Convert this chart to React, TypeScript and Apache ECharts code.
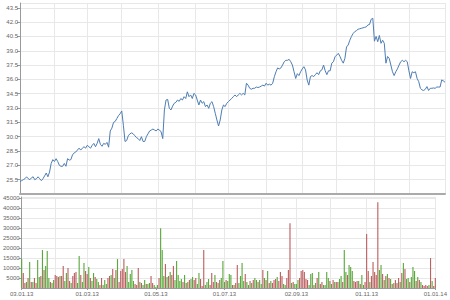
import React, { useEffect, useRef } from "react";
import * as echarts from "echarts";

// Trading days (weekdays) from 03.01.2013 to 01.01.2014
const START_DATE = "2013-01-03";
const END_DATE = "2014-01-01";

// Closing prices, one per trading day
const prices: number[] = [
  25.3, 25.4, 25.5, 25.6, 25.8, 25.6, 25.5, 25.7, 25.8, 25.5, 25.6, 25.8, 25.6, 25.4, 25.6, 25.9, 26.2, 25.8, 26.3, 27.2, 27.6, 27.4, 27.7, 27.4, 27.0,
  26.9, 26.9, 27.2, 26.9, 27.7, 27.55, 27.6, 28.1, 28.3, 28.4, 28.6, 28.8, 28.6, 28.8, 28.95, 28.8, 29.1, 28.95, 28.8, 29.1, 29.3, 28.95, 29.3,
  29.8, 29.2, 29.0, 29.3, 29.2, 29.4, 28.9, 30.6, 30.9, 31.5, 31.6, 31.9, 32.2, 32.4, 32.7,
  31.2, 29.5, 29.6, 30.1, 30.3, 30.4, 30.3, 30.1, 29.9, 29.8, 29.6, 30.0, 29.5, 29.5, 30.0, 30.3, 30.6, 30.7, 30.8, 30.7, 30.6, 30.8, 30.7, 30.5, 29.8,
  32.8, 33.84, 33.9, 32.97, 32.8, 33.2, 33.5, 33.6, 33.84, 33.7, 34.0, 33.84, 34.19, 34.0, 34.7, 34.19, 34.37, 34.0, 34.54, 34.37, 33.84, 33.32, 33.84, 33.5, 33.67,
  33.15, 33.32, 32.97, 33.5, 33.67, 33.15, 32.45, 31.75, 31.12, 31.75, 32.8, 33.32, 33.15, 33.5, 33.67, 33.84, 34.0, 34.19, 34.37, 34.19, 34.37, 34.54, 34.37, 34.54, 34.37,
  35.6, 35.4, 35.07, 34.97, 35.07, 35.07, 35.2, 35.15, 35.2, 35.3, 35.4, 35.3, 35.6, 35.4, 35.5, 35.4, 35.6, 36.28, 36.8, 37.2, 37.1, 37.2, 37.5, 37.85, 38.0,
  38.0, 38.1, 37.85, 37.5, 36.8, 36.1, 36.6, 36.4, 36.8, 37.1, 37.33, 37.0,
  35.94, 35.4, 36.3, 36.4, 36.3, 36.5, 36.7, 36.5, 36.9, 37.0, 37.5, 36.9, 36.5, 36.9, 36.9, 37.7, 37.85, 38.37, 38.55, 38.73, 38.4, 38.0, 37.7, 38.2, 39.4,
  39.6, 40.1, 40.5, 40.8, 41.0, 41.1, 41.25, 41.3, 41.35, 41.4, 41.45, 41.5, 41.7, 41.75, 42.3, 42.4,
  40.0, 40.5, 39.95, 40.6, 39.78, 40.1, 39.78, 37.7, 38.4, 38.2, 37.5, 36.8, 36.4, 36.8, 37.1, 37.5, 37.85, 38.0, 37.85, 38.0, 37.85, 36.9, 36.1, 36.8, 36.7,
  36.8, 36.1, 35.76, 35.07, 34.9, 34.84, 34.97, 35.25, 34.84, 35.07, 35.07, 35.1, 35.07, 35.2, 35.2, 35.2, 35.94, 35.85, 35.7,
];

// Volumes (thousands) per trading day
const volumes: number[] = [
  14.5, 7.5, 2.5, 3, 5, 13, 3, 3, 5, 2.5, 14, 5.5, 6, 19, 9, 11, 18.5, 5, 3, 2.5, 4, 6.5, 6, 5.5, 6,
  6, 11, 3.5, 7.5, 10, 3.5, 2.5, 6, 7.5, 8, 2.5, 16, 6.5, 3, 12.5, 8.5, 7, 10.5, 5, 3.5, 7.5, 5.5, 4.5, 3,
  1.5, 5, 1.5, 4, 2, 5, 6, 6.5, 9.5, 5, 9, 14.5, 3, 8.5, 9.5, 14.5, 8, 11, 3, 7, 9, 3.5, 2, 1.5, 10,
  3, 2.5, 1.5, 4, 2, 2,
  2.5, 6, 2.5, 1.5, 0.5, 1.5, 5, 30, 19, 6, 12, 5.5, 6, 8, 6.5, 11, 4, 13.5, 6.5, 3.5, 4.5, 3, 6.5, 2.5, 3,
  4, 4.5, 5.5, 4, 5, 2, 7.5, 4.5, 1, 19, 1.5, 3, 4.5, 1.5, 7.5, 3, 6.5, 3, 2.5, 4, 5, 13.5, 3, 4, 3.5,
  7, 6.5, 1.5, 1.5, 2.5, 11.5, 2.5, 6, 12.5, 3.5, 7, 3, 1.5, 3.5, 2.5, 4, 5, 4, 3, 4, 2, 9, 5, 4, 8.5,
  2.5, 3.5, 2.5, 4, 4.5, 5.5, 3.5, 8, 6, 2, 1.5, 5, 9, 32.5, 2.5, 3, 2,
  2, 4, 5, 8.5, 9, 8, 4.5, 4, 1.5, 7, 7.5, 1.5, 2.5, 5, 8, 2, 3, 1.5, 1.5, 8, 5, 3.5, 2, 4, 3,
  3, 3, 4.5, 6, 3, 19, 8, 6.5, 11.5, 10.5, 8.5, 3.5, 3, 3.5, 3.5, 2, 6.5, 1.5, 3, 27, 8.5, 3, 6, 13, 8,
  6.5, 43, 9, 11.5, 7, 4, 6, 7, 5, 4.5, 2, 2.5, 4, 2.5, 5, 3, 7.5, 12.5, 9.5, 4.5, 5, 3, 5.5, 10.5, 8.5,
  3.5, 5.5, 4, 3, 1.5, 1, 1.5, 1, 1.5, 15, 3.5, 1, 5,
];

// Bar direction per trading day: 1 = up (green), 0 = down (red)
const volumeUp: number[] = [
  1, 0, 0, 1, 0, 1, 0, 1, 0, 0, 1, 1, 0, 1, 0, 1, 1, 1, 0, 1, 1, 0, 0, 0, 1,
  0, 0, 1, 1, 0, 0, 1, 0, 0, 0, 1, 1, 0, 1, 1, 0, 0, 1, 0, 1, 1, 0, 1, 1,
  0, 0, 1, 1, 1, 0, 0, 1, 0, 1, 0, 1, 0, 0, 0, 0, 0, 1, 1, 1, 1, 1, 0, 0, 0,
  1, 0, 1, 1, 0, 1,
  1, 0, 0, 1, 1, 1, 0, 1, 1, 1, 0, 1, 0, 1, 0, 0, 1, 1, 1, 1, 1, 0, 1, 0, 1,
  0, 1, 1, 0, 0, 1, 1, 0, 0, 0, 1, 1, 1, 0, 0, 0, 1, 0, 1, 0, 1, 1, 1, 0, 1,
  1, 1, 0, 1, 0, 0, 1, 1, 1, 1, 0, 1, 1, 0, 1, 0, 1, 1, 0, 1, 1, 0, 1, 0, 1,
  0, 1, 0, 0, 0, 1, 0, 0, 0, 1, 1, 0, 0, 0, 1, 0, 1,
  1, 1, 0, 0, 0, 0, 0, 0, 1, 1, 1, 0, 1, 0, 1, 0, 0, 1, 1, 1, 1, 0, 1, 0, 1,
  0, 0, 1, 1, 0, 1, 1, 0, 1, 1, 1, 0, 0, 0, 1, 0, 1, 1, 0, 0, 0, 1, 0, 0, 0,
  0, 0, 1, 1, 0, 1, 0, 1, 0, 1, 0, 1, 0, 0, 0, 1, 0, 1, 0, 1, 1, 0, 1, 1, 1,
  0, 1, 0, 1, 0, 0, 0, 0, 1, 0, 1, 0, 0,
];

function tradingDays(start: string, end: string): string[] {
  const out: string[] = [];
  const d = new Date(start + "T12:00:00Z");
  const e = new Date(end + "T12:00:00Z");
  while (d <= e) {
    const wd = d.getUTCDay();
    if (wd !== 0 && wd !== 6) {
      const dd = String(d.getUTCDate()).padStart(2, "0");
      const mm = String(d.getUTCMonth() + 1).padStart(2, "0");
      const yy = String(d.getUTCFullYear()).slice(2);
      out.push(`${dd}.${mm}.${yy}`);
    }
    d.setUTCDate(d.getUTCDate() + 1);
  }
  return out;
}

export default function App() {
  const ref = useRef<HTMLDivElement>(null);
  useEffect(() => {
    if (!ref.current) return;
    const chart = echarts.init(ref.current, undefined, { renderer: "svg" });
    const dates = tradingDays(START_DATE, END_DATE);
    // first trading day of each month
    const monthStart: boolean[] = dates.map((d, i) => i === 0 || d.slice(3, 5) !== dates[i - 1].slice(3, 5));
    const monthIdx: number[] = [];
    monthStart.forEach((m, i) => { if (m) monthIdx.push(i); });
    const labelSet = new Set<number>(monthIdx.filter((_, k) => k % 2 === 0));
    const isMonth = (i: number) => monthStart[i];
    const isLabel = (i: number) => labelSet.has(i);

    const font = "Liberation Sans";
    const labelColor = "#666";
    const gridLine = { show: true, lineStyle: { color: "#e8e8e8", width: 1 } };

    chart.setOption({
      animation: false,
      backgroundColor: "#fff",
      grid: [
        { left: 20, right: 5, top: 3, height: 191 },
        { left: 20, right: 5, top: 197, height: 91 },
      ],
      xAxis: [
        {
          type: "category",
          gridIndex: 0,
          data: dates,
          boundaryGap: false,
          axisLine: { show: true, lineStyle: { color: "#aaa", width: 2 } },
          axisTick: { show: false },
          axisLabel: { show: false },
          splitLine: { ...gridLine, interval: (i: number) => isMonth(i) },
        },
        {
          type: "category",
          gridIndex: 1,
          data: dates,
          boundaryGap: false,
          axisLine: { show: true, lineStyle: { color: "#999", width: 1 } },
          axisTick: { show: true, length: 2, interval: (i: number) => isLabel(i), lineStyle: { color: "#999" } },
          axisLabel: {
            show: true,
            interval: (i: number) => isLabel(i),
            color: labelColor,
            fontSize: 6,
            fontFamily: font,
            margin: 3,
          },
          splitLine: { ...gridLine, interval: (i: number) => isMonth(i) },
        },
      ],
      yAxis: [
        {
          type: "value",
          gridIndex: 0,
          min: 24,
          max: 44,
          interval: 1.5,
          axisLine: { show: true, lineStyle: { color: "#999", width: 1 } },
          axisTick: { show: true, length: 3, lineStyle: { color: "#999" } },
          axisLabel: {
            color: labelColor,
            fontSize: 6,
            fontFamily: font,
            margin: 2,
            showMinLabel: false,
            showMaxLabel: false,
            formatter: (v: number) => v.toFixed(1),
          },
          splitLine: gridLine,
        },
        {
          type: "value",
          gridIndex: 1,
          min: 0,
          max: 45600,
          interval: 5000,
          axisLine: { show: true, lineStyle: { color: "#999", width: 1 } },
          axisTick: { show: true, length: 3, lineStyle: { color: "#999" } },
          axisLabel: {
            color: labelColor,
            fontSize: 6,
            fontFamily: font,
            margin: 2,
            showMinLabel: false,
            showMaxLabel: false,
            formatter: (v: number) => String(Math.round(v)),
          },
          splitLine: gridLine,
        },
      ],
      series: [
        {
          type: "line",
          xAxisIndex: 0,
          yAxisIndex: 0,
          data: prices,
          showSymbol: false,
          lineStyle: { color: "#4d7db3", width: 1 },
          itemStyle: { color: "#4d7db3" },
        },
        {
          type: "bar",
          xAxisIndex: 1,
          yAxisIndex: 1,
          barWidth: "70%",
          data: volumes.map((v, i) => ({
            value: v * 1000,
            itemStyle: { color: volumeUp[i] ? "#5aa83c" : "#bc5f5f" },
          })),
        },
      ],
    });
    return () => chart.dispose();
  }, []);
  return <div ref={ref} style={{ width: 450, height: 300, position: "absolute", left: 0, top: 0 }} />;
}
